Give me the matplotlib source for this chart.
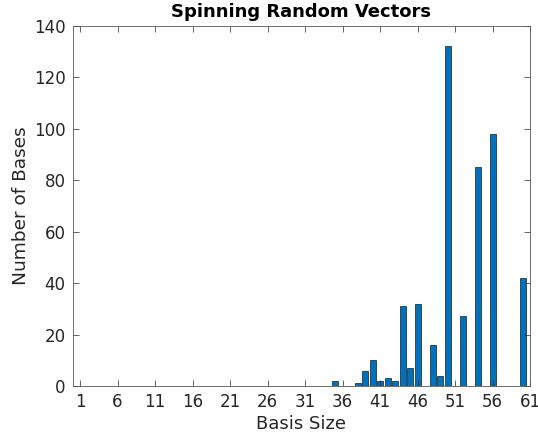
import numpy as np
import matplotlib
matplotlib.use("Agg")
import matplotlib.pyplot as plt

plt.rcParams["font.family"] = ["DejaVu Sans"]

# Basis sizes that occurred and how many bases had each size
basis_sizes = [35, 38, 39, 40, 41, 42, 43, 44, 45, 46, 48, 49, 50, 52, 54, 56, 60]
counts = [2, 1, 6, 10, 2, 3, 2, 31, 7, 32, 16, 4, 132, 27, 85, 98, 42]
x_ticks = list(range(1, 62, 5))
y_ticks = list(range(0, 141, 20))

axis_col = "#262626"

fig = plt.figure(figsize=(5.38, 4.37), dpi=100)
ax = fig.add_axes([72.5 / 538, 51 / 437, (530 - 72.5) / 538, (386.2 - 25.8) / 437])

ax.bar(basis_sizes, counts, width=0.8, color="#0072BD",
       edgecolor="#1a1a1a", linewidth=0.5)

ax.set_xlim(0, 61)
ax.set_ylim(0, 140)
ax.set_xticks(x_ticks)
ax.set_yticks(y_ticks)

ax.tick_params(direction="in", top=True, right=True, length=4, width=0.5,
               colors=axis_col, labelsize=12, labelcolor=axis_col)
ax.tick_params(axis="x", pad=5)
ax.tick_params(axis="y", pad=5)
for sp in ax.spines.values():
    sp.set_linewidth(0.6)
    sp.set_color("#555555")

ax.set_xlabel("Basis Size", fontsize=13, color=axis_col, labelpad=3)
ax.set_ylabel("Number of Bases", fontsize=13.3, color=axis_col, labelpad=3)
ax.set_title("Spinning Random Vectors", fontsize=13, fontweight="bold", pad=6)

fig.savefig("out.png", dpi=100)
